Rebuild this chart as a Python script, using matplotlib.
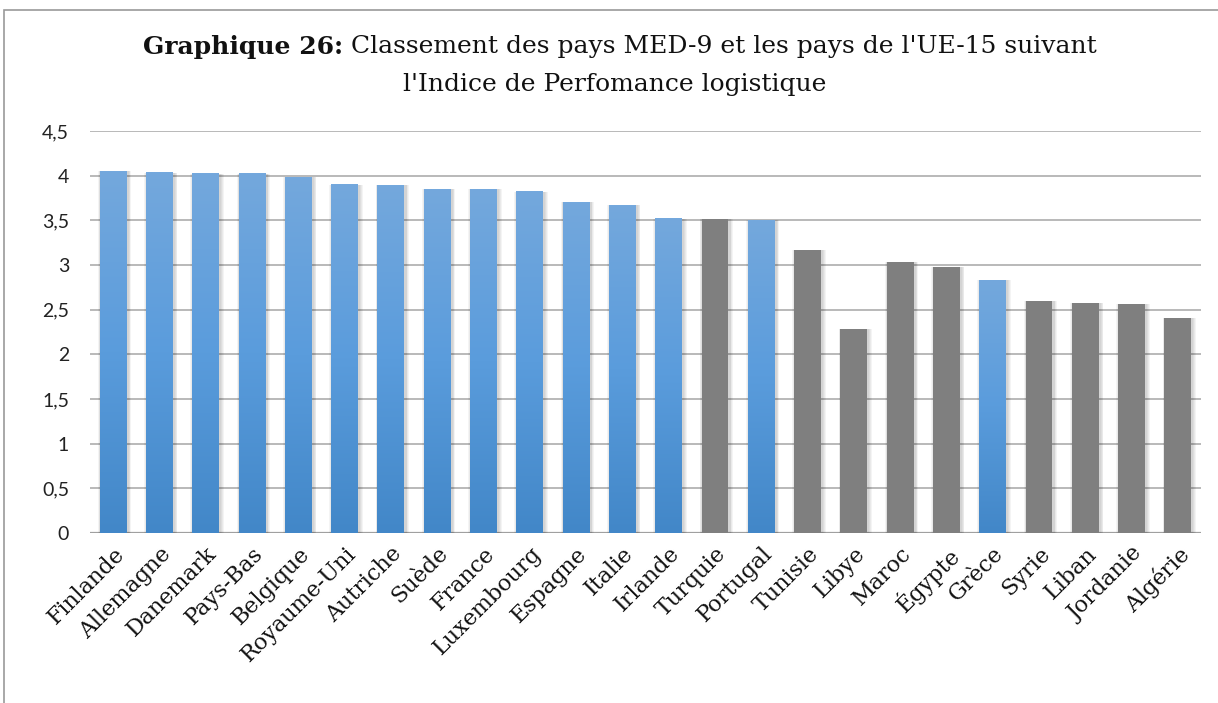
import matplotlib
matplotlib.use("Agg")
import matplotlib.pyplot as plt
from matplotlib.patches import Rectangle
from matplotlib.colors import LinearSegmentedColormap
import numpy as np

countries = ["Finlande", "Allemagne", "Danemark", "Pays-Bas", "Belgique", "Royaume-Uni",
             "Autriche", "Suède", "France", "Luxembourg", "Espagne", "Italie", "Irlande",
             "Turquie", "Portugal", "Tunisie", "Libye", "Maroc", "Égypte", "Grèce",
             "Syrie", "Liban", "Jordanie", "Algérie"]
lpi = [4.05, 4.03, 4.02, 4.02, 3.98, 3.90, 3.89, 3.85, 3.85, 3.82, 3.70, 3.67, 3.52,
       3.51, 3.50, 3.17, 2.28, 3.03, 2.98, 2.83, 2.60, 2.58, 2.56, 2.41]
groups = ["UE", "UE", "UE", "UE", "UE", "UE", "UE", "UE", "UE", "UE", "UE", "UE", "UE",
          "MED", "UE", "MED", "MED", "MED", "MED", "UE", "MED", "MED", "MED", "MED"]
yticks = [0, 0.5, 1, 1.5, 2, 2.5, 3, 3.5, 4, 4.5]
ytick_labels = ["0", "0,5", "1", "1,5", "2", "2,5", "3", "3,5", "4", "4,5"]

W, H = 1218, 703
fig = plt.figure(figsize=(W / 100, H / 100), dpi=100)
fig.patch.set_facecolor("white")

# outer frame
fig.patches.append(Rectangle((4 / W, -0.05), 1.2, (H - 10) / H + 0.05, transform=fig.transFigure,
                             fill=False, edgecolor="#9a9a9a", lw=1.2))

ax = fig.add_axes([90 / W, 1 - 533 / H, (1201 - 90) / W, (533 - 131) / H])
for s in ax.spines.values():
    s.set_visible(False)
ax.set_axisbelow(True)
ax.yaxis.grid(True, color="#a6a6a6", lw=1.1)
ax.axhline(0, color="#a0a0a0", lw=1.6, zorder=1)

blue_cmap = LinearSegmentedColormap.from_list("b", ["#4287c8", "#5a9cdc", "#74a8dd"])
grad = np.linspace(0, 1, 256).reshape(-1, 1)
bw = 0.58
x = np.arange(len(countries))
for xi, v, g in zip(x, lpi, groups):
    # soft shadow
    for k in range(1, 5):
        ax.bar(xi + 0.03, v, width=bw + 0.035 * k, color="black", alpha=0.045, zorder=1.5, lw=0)
    if g == "MED":
        ax.bar(xi, v, width=bw, color="#7f7f7f", zorder=2)
    else:
        ax.bar(xi, v, width=bw, color="#4f93d2", zorder=2)
        ax.imshow(grad, cmap=blue_cmap, origin="lower", aspect="auto",
                  extent=(xi - bw / 2, xi + bw / 2, 0, v), zorder=3)
ax.set_xlim(-0.5, len(countries) - 0.5)
ax.set_ylim(0, 4.5)

ax.set_yticks(yticks)
ax.set_yticklabels(ytick_labels, family=["Lato", "DejaVu Sans"], fontsize=14, color="#222222")
ax.tick_params(axis="y", length=0, pad=15)
ax.set_xticks(x)
ax.set_xticklabels(countries, rotation=45, ha="right", rotation_mode="anchor",
                   family=["DejaVu Serif"], fontsize=16, color="#111111")
ax.tick_params(axis="x", length=0, pad=7)

# title in two parts on first line
fig.canvas.draw()
r = fig.canvas.get_renderer()
fs = 18
y1 = 1 - 47 / H
t_bold = fig.text(0, y1, "Graphique 26:", family="DejaVu Serif", fontweight="bold",
                  fontsize=fs, va="center", ha="left", color="#111111")
t_norm = fig.text(0, y1, " Classement des pays MED-9 et les pays de l'UE-15 suivant",
                  family="DejaVu Serif", fontsize=fs, va="center", ha="left", color="#111111")
wb = t_bold.get_window_extent(r).width
wn = t_norm.get_window_extent(r).width
x0 = 620 - (wb + wn) / 2
t_bold.set_x(x0 / W)
t_norm.set_x((x0 + wb) / W)
fig.text(615 / W, 1 - 85 / H, "l'Indice de Perfomance logistique", family="DejaVu Serif",
         fontsize=fs, va="center", ha="center", color="#111111")

fig.savefig("out.png", dpi=100)
